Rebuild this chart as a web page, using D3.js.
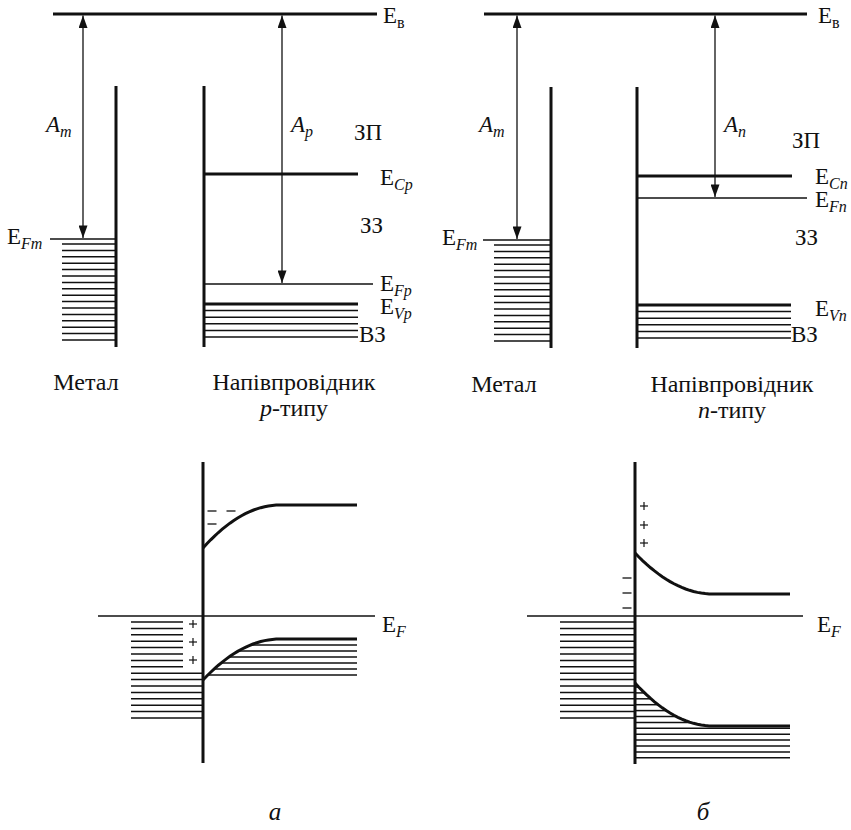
<!DOCTYPE html>
<meta charset="utf-8">
<script src="https://cdn.jsdelivr.net/npm/d3@7"></script>
<style>
  body { margin: 0; background: #fff; }
</style>
<div id="chart"></div>
<script>
  // --- separated metal / semiconductor, eV below the vacuum level E_в
  const topTypes = ["p", "n"];
  const metalA = [4.5, 4.52];     // A_m  (metal Fermi level)
  const semiEc = [3.2, 3.24];     // E_C
  const semiEF = [5.4, 3.68];     // E_F of the semiconductor
  const semiEv = [5.8, 5.82];     // E_V

  // --- after contact, eV relative to the common E_F
  const bendLetters = ["а", "б"];
  const ecBulk = [2.22, 0.44];
  const ecSurf = [1.36, 1.26];
  const evBulk = [-0.46, -2.2];
  const evSurf = [-1.28, -1.34];

  const width = 851, height = 830, ink = "#111";
  const serif = "'Liberation Serif', 'Times New Roman', 'DejaVu Serif', serif";

  const svg = d3.select("#chart").append("svg")
    .attr("width", width).attr("height", height)
    .attr("font-family", serif);

  svg.append("defs").append("marker")
    .attr("id", "ah").attr("viewBox", "0 0 14 10")
    .attr("refX", 14).attr("refY", 5)
    .attr("markerWidth", 14).attr("markerHeight", 9)
    .attr("markerUnits", "userSpaceOnUse")
    .attr("orient", "auto-start-reverse")
    .append("path").attr("d", "M0,0L14,5L0,10Z").attr("fill", ink);

  const yTop = d3.scaleLinear().domain([0, 7]).range([14, 364]);
  const yBot = d3.scaleLinear().domain([0, 1]).range([616, 566]);

  function hline(g, x1, x2, y, w) {
    g.append("line").attr("x1", x1).attr("x2", x2).attr("y1", y).attr("y2", y)
      .attr("stroke", ink).attr("stroke-width", w);
  }
  function vline(g, x, y1, y2, w) {
    g.append("line").attr("x1", x).attr("x2", x).attr("y1", y1).attr("y2", y2)
      .attr("stroke", ink).attr("stroke-width", w);
  }
  function arrow(g, x, y1, y2) {
    g.append("line").attr("x1", x).attr("x2", x).attr("y1", y1).attr("y2", y2)
      .attr("stroke", ink).attr("stroke-width", 1.3)
      .attr("marker-start", "url(#ah)").attr("marker-end", "url(#ah)");
  }
  // runs: [text, kind] kind: "" plain, "i" italic, "s" subscript, "si" italic subscript
  function label(g, x, y, runs, anchor, size) {
    size = size || 23;
    const t = g.append("text").attr("x", x).attr("y", y)
      .attr("font-family", serif).attr("fill", ink)
      .attr("font-size", size).attr("text-anchor", anchor || "start");
    let down = 0;
    runs.forEach(([s, k]) => {
      const sub = k.includes("s");
      const dy = (sub ? 5 : 0) - down;
      down = sub ? 5 : 0;
      t.append("tspan").text(s)
        .attr("dy", dy)
        .attr("font-size", sub ? 16 : size)
        .attr("font-style", k.includes("i") ? "italic" : "normal");
    });
  }
  function plus(g, x, y) { hline(g, x - 4, x + 4, y, 1.2); vline(g, x, y - 4, y + 4, 1.2); }
  function minus(g, x, y, len) { hline(g, x - len / 2, x + len / 2, y, 1.3); }

  // ---------- top: energy diagrams before contact
  const topLayout = [
    { vac: [53, 377], am: 83, wall: 116, wallY: [86, 347], efm: 50, hatch: 62,
      semi: 204, ec: 358, ef: 373, ev: 358, arr: 282,
      tx: { ev: 383, am: 46, a: 291, zp: 354, zpY: 140, lv: 380, zz: 360, zzY: 233,
            efm: 7, vz: 359, met: 86, semi: 294, metY: 390, dC: 11, dF: 7, dV: 10 } },
    { vac: [484, 807], am: 517, wall: 551, wallY: [87, 348], efm: 442, hatch: 494,
      semi: 637, ec: 792, ef: 807, ev: 791, arr: 715,
      tx: { ev: 818, am: 479, a: 724, zp: 792, zpY: 148, lv: 815, zz: 795, zzY: 245,
            efm: 442, vz: 791, met: 504, semi: 732, metY: 392, dC: 8, dF: 9, dV: 11 } }
  ];

  topTypes.forEach((tp, k) => {
    const L = topLayout[k], T = L.tx;
    const g = svg.append("g");

    hline(g, L.vac[0], L.vac[1], yTop(0), 3);
    label(g, T.ev, 23, [["E", ""], ["в", "s"]]);

    // metal
    vline(g, L.wall, L.wallY[0], L.wallY[1], 3);
    hline(g, k ? 483 : 50, L.wall, yTop(metalA[k]), 1.3);
    d3.range(16).map(i => metalA[k] + 0.1 + i * 0.128)
      .forEach(e => hline(g, L.hatch, L.wall, yTop(e), 1.5));
    arrow(g, L.am, yTop(0) + 1.5, yTop(metalA[k]) - 1);
    label(g, T.am, 132, [["A", "i"], ["m", "si"]]);
    label(g, T.efm, yTop(metalA[k]) + 5, [["E", ""], ["Fm", "si"]]);

    // semiconductor
    vline(g, L.semi, L.wallY[0], L.wallY[1], 3);
    hline(g, L.semi, L.ec, yTop(semiEc[k]), 3);
    hline(g, L.semi, L.ef, yTop(semiEF[k]), 1.3);
    hline(g, L.semi, L.ev, yTop(semiEv[k]), 3);
    d3.range(1, 6).map(i => semiEv[k] + i * 0.132)
      .forEach(e => hline(g, L.semi, L.ev, yTop(e), 1.5));
    arrow(g, L.arr, yTop(0) + 1.5, yTop(semiEF[k]) - 1);

    label(g, T.a, 132, [["A", "i"], [tp, "si"]]);
    label(g, T.zp, T.zpY, [["ЗП", ""]]);
    label(g, T.zz, T.zzY, [["ЗЗ", ""]]);
    label(g, T.lv, yTop(semiEc[k]) + T.dC, [["E", ""], ["C" + tp, "si"]]);
    label(g, T.lv, yTop(semiEF[k]) + T.dF, [["E", ""], ["F" + tp, "si"]]);
    label(g, T.lv, yTop(semiEv[k]) + T.dV, [["E", ""], ["V" + tp, "si"]]);
    label(g, T.vz, 342, [["ВЗ", ""]]);

    label(g, T.met, T.metY, [["Метал", ""]], "middle", 24);
    label(g, T.semi, T.metY, [["Напівпровідник", ""]], "middle", 24);
    label(g, T.semi, T.metY + 26, [[tp, "i"], ["-типу", ""]], "middle", 24);
  });

  // ---------- bottom: band bending in contact
  const botLayout = [
    { iface: 203, ef: [98, 375], bulk: 357, w: 77, metal: 131, shortEnd: 183, vY: [462, 763], efx: 382,
      plus: [[193, 624], [193, 642], [193, 660]], minus: [[212, 511], [231, 511], [212, 524]], letter: 275 },
    { iface: 635, ef: [527, 803], bulk: 790, w: 78, metal: 560, shortEnd: 635, vY: [462, 764], efx: 817,
      plus: [[644, 506], [644, 525], [644, 543]], minus: [[627, 578], [627, 593], [627, 608]], letter: 703 }
  ];

  bendLetters.forEach((letter, k) => {
    const L = botLayout[k];
    const g = svg.append("g");
    const bend = (surf, bulk) => t => bulk + (surf - bulk) * (1 - t) * (1 - t);
    const xAt = (surf, bulk, e) => L.iface + (1 - Math.sqrt((e - bulk) / (surf - bulk))) * L.w;
    const line = d3.line().x(d => d[0]).y(d => yBot(d[1]));

    hline(g, L.ef[0], L.ef[1], yBot(0), 1.3);
    label(g, L.efx, yBot(0) + 16, [["E", ""], ["F", "si"]]);

    // metal filled states
    d3.range(16).map(i => -0.12 - i * 0.128).forEach((e, i) =>
      hline(g, L.metal, i < 8 ? L.shortEnd : L.iface, yBot(e), 1.5));

    // bands
    [[ecSurf[k], ecBulk[k]], [evSurf[k], evBulk[k]]].forEach(([s, b]) => {
      const f = bend(s, b);
      const pts = d3.range(0, 1.0001, 0.05).map(t => [L.iface + t * L.w, f(t)]);
      pts.push([L.bulk, b]);
      g.append("path").attr("d", line(pts)).attr("fill", "none")
        .attr("stroke", ink).attr("stroke-width", 3);
    });

    // semiconductor filled states under E_V
    const s = evSurf[k], b = evBulk[k];
    if (k === 0) {
      d3.range(1, 7).map(i => b - i * 0.12)
        .forEach(e => hline(g, xAt(s, b, e), L.bulk, yBot(e), 1.5));
    } else {
      d3.range(13).map(i => -1.42 - i * 0.118).forEach(e => {
        const x2 = e > b ? xAt(s, b, e) : L.bulk;
        hline(g, L.iface, x2, yBot(e), 1.5);
      });
    }

    vline(g, L.iface, L.vY[0], L.vY[1], 3);
    L.plus.forEach(([x, y]) => plus(g, x, y));
    L.minus.forEach(([x, y]) => minus(g, x, y, 9));

    label(g, L.letter, 820, [[letter, "i"]], "middle", 25);
  });
</script>
